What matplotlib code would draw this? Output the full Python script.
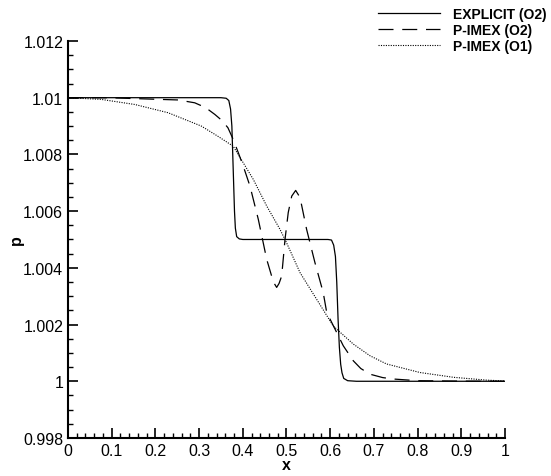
import matplotlib
matplotlib.use('Agg')
import matplotlib.pyplot as plt
from matplotlib.ticker import MultipleLocator, FormatStrFormatter

plt.rcParams['font.family'] = ['Liberation Sans', 'DejaVu Sans']

# EXPLICIT (O2)
x_exp = [0.0, 0.2, 0.35, 0.362, 0.368, 0.372, 0.375, 0.377, 0.379, 0.381, 0.383,
         0.386, 0.392, 0.40, 0.5, 0.595, 0.603, 0.608, 0.612, 0.615, 0.618,
         0.621, 0.624, 0.627, 0.631, 0.64, 0.66, 1.0]
p_exp = [1.01, 1.01, 1.01, 1.00998, 1.0099, 1.0096, 1.0090, 1.0080, 1.0070,
         1.0060, 1.0054, 1.0051, 1.00502, 1.0050, 1.0050, 1.0050, 1.00498,
         1.0048, 1.0044, 1.0035, 1.0022, 1.0012, 1.0006, 1.0003, 1.0001,
         1.00002, 1.0, 1.0]

# P-IMEX (O2)
x_o2 = [0.0, 0.1, 0.19, 0.252, 0.29, 0.315, 0.336, 0.352, 0.366, 0.378, 0.39,
        0.401, 0.4165, 0.4355, 0.4547, 0.466, 0.472, 0.4775, 0.483, 0.489,
        0.4966, 0.504, 0.512, 0.521, 0.531, 0.546, 0.565, 0.584, 0.592, 0.611,
        0.630, 0.653, 0.67, 0.691, 0.72, 0.744, 0.8, 0.9, 1.0]
p_o2 = [1.01, 1.009995, 1.00995, 1.00992, 1.00982, 1.00965, 1.00941, 1.0092,
        1.00894, 1.00853, 1.00805, 1.00759, 1.00688, 1.00571, 1.00430, 1.00371,
        1.00345, 1.00331, 1.00345, 1.00371, 1.0050, 1.00595, 1.00653, 1.00673,
        1.00648, 1.00536, 1.00419, 1.00313, 1.00243, 1.00184, 1.00125, 1.00072,
        1.00045, 1.00025, 1.00013, 1.00008, 1.00002, 1.000005, 1.0]

# P-IMEX (O1)
x_o1 = [0.0, 0.076, 0.153, 0.229, 0.305, 0.343, 0.378, 0.424, 0.4547, 0.485,
        0.5, 0.531, 0.569, 0.607, 0.619, 0.653, 0.691, 0.729, 0.805, 0.882,
        0.958, 1.0]
p_o1 = [1.01, 1.00994, 1.00976, 1.00947, 1.0090, 1.00864, 1.00829, 1.00712,
        1.00618, 1.00536, 1.00489, 1.00383, 1.00289, 1.00195, 1.00178, 1.00131,
        1.0009, 1.00061, 1.00031, 1.00014, 1.00004, 1.00001]

fig = plt.figure(figsize=(5.51, 4.77), dpi=100)
ax = fig.add_axes([0.1234, 0.0797, 0.7931, 0.8323])

ax.plot(x_exp, p_exp, color='black', linewidth=0.9, label='EXPLICIT (O2)')
ax.plot(x_o2, p_o2, color='black', linewidth=0.9, linestyle=(0, (12, 7)),
        label='P-IMEX (O2)')
ax.plot(x_o1, p_o1, color='black', linewidth=0.8, linestyle=(0, (1, 1.2)),
        label='P-IMEX (O1)')

ax.set_xlim(0, 1)
ax.set_ylim(0.998, 1.012)
ax.xaxis.set_major_locator(MultipleLocator(0.1))
ax.xaxis.set_minor_locator(MultipleLocator(0.02))
ax.yaxis.set_major_locator(MultipleLocator(0.002))
ax.yaxis.set_minor_locator(MultipleLocator(0.0005))
ax.xaxis.set_major_formatter(FormatStrFormatter('%g'))
ax.yaxis.set_major_formatter(FormatStrFormatter('%g'))

for s in ['top', 'right']:
    ax.spines[s].set_visible(False)
for s in ['left', 'bottom']:
    ax.spines[s].set_linewidth(1.5)

ax.tick_params(which='major', direction='in', length=7, width=1.2,
               labelsize=11.5, pad=3.5)
ax.tick_params(which='minor', direction='in', length=3.6, width=1.0)

ax.set_xlabel('x', fontsize=11.5, fontweight='bold', va='baseline')
ax.set_ylabel('p', fontsize=11.5, fontweight='bold', va='center')
ax.xaxis.set_label_coords(0.5, -0.079)
ax.yaxis.set_label_coords(-0.118, 0.5)

ax.legend(loc='upper left', bbox_to_anchor=(0.686, 0.984),
          bbox_transform=fig.transFigure, frameon=False,
          prop={'weight': 'bold', 'size': 10}, handlelength=4.46,
          handletextpad=0.93, labelspacing=0.15, borderpad=0,
          borderaxespad=0)

plt.savefig('out.png', dpi=100)
